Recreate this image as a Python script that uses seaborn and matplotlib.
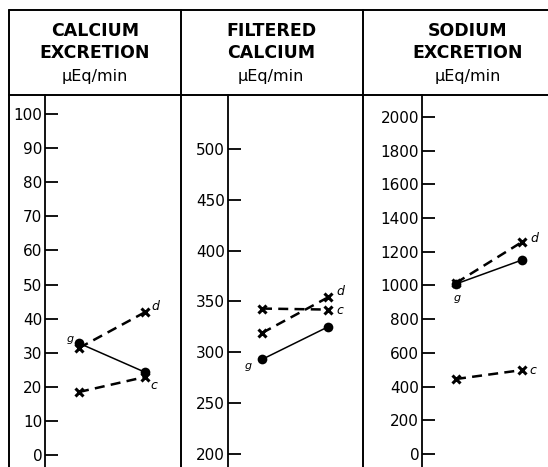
import matplotlib
matplotlib.use("Agg")
import matplotlib.pyplot as plt
import seaborn as sns
import pandas as pd
from matplotlib.lines import Line2D

sns.set_theme(style="white")
plt.rcParams['font.family'] = ['DejaVu Sans']
plt.rcParams['text.color'] = 'black'
plt.rcParams['ytick.color'] = 'black'
plt.rcParams['xtick.color'] = 'black'

# ---- data ----
periods = [0, 1]
titles = [["CALCIUM", "EXCRETION", "µEq/min"],
          ["FILTERED", "CALCIUM", "µEq/min"],
          ["SODIUM", "EXCRETION", "µEq/min"]]

calcium_g = [32.8, 24.3]
calcium_d = [31.4, 41.9]
calcium_c = [18.5, 22.9]

filtered_g = [293, 325]
filtered_d = [319, 354]
filtered_c = [343, 342]

sodium_g = [1009, 1151]
sodium_d = [1015, 1258]
sodium_c = [445, 498]

ticks1 = list(range(0, 101, 10))
ticks2 = list(range(200, 501, 50))
ticks3 = list(range(0, 2001, 200))

W, H = 548, 467
fig = plt.figure(figsize=(W / 100, H / 100), dpi=100)
fig.patch.set_facecolor("white")

def fx(px):
    return px / W

def fy(py):
    return 1 - py / H

panels = [
    dict(axis=45, right=180, ylim=(-3.5, 105.6), ticks=ticks1, hdr=95,
         series=dict(g=calcium_g, d=calcium_d, c=calcium_c),
         off=dict(g=(-9, 4), d=(10, 6), c=(9, -9))),
    dict(axis=228, right=363, ylim=(187.2, 553), ticks=ticks2, hdr=271,
         series=dict(g=filtered_g, d=filtered_d, c=filtered_c),
         off=dict(g=(-14, -7), d=(12, 6), c=(12, -1))),
    dict(axis=422, right=548, ylim=(-77, 2130), ticks=ticks3, hdr=468,
         series=dict(g=sodium_g, d=sodium_d, c=sodium_c),
         off=dict(g=(1, -14), d=(12, 3), c=(11, 0))),
]

for k, p in enumerate(panels):
    left = p["axis"]
    ax = fig.add_axes([fx(left), 0, fx(p["right"]) - fx(left), fy(95)])
    ax.set_facecolor("none")
    lo = -34 / 66
    hi = lo + (p["right"] - left) / 66
    ax.set_xlim(lo, hi)
    ax.set_ylim(*p["ylim"])
    s = p["series"]
    df_g = pd.DataFrame({"x": periods, "y": s["g"]})
    df_d = pd.DataFrame({"x": periods, "y": s["d"]})
    df_c = pd.DataFrame({"x": periods, "y": s["c"]})
    sns.lineplot(data=df_g, x="x", y="y", ax=ax, color="black", lw=1.1,
                 marker="o", markersize=7, markeredgewidth=0,
                 markerfacecolor="black", sort=False, estimator=None)
    for df in (df_d, df_c):
        sns.lineplot(data=df, x="x", y="y", ax=ax, color="black", lw=1.8,
                     linestyle=(0, (4, 2.5)), marker="x", markersize=6,
                     markeredgewidth=2.2, markeredgecolor="black",
                     sort=False, estimator=None)
    ax.annotate("g", (periods[0], s["g"][0]), xytext=p["off"]["g"],
                textcoords="offset pixels", ha="center", va="center",
                fontsize=8, style="italic", color="black")
    ax.annotate("d", (periods[1], s["d"][1]), xytext=p["off"]["d"],
                textcoords="offset pixels", ha="center", va="center",
                fontsize=9, style="italic", color="black")
    ax.annotate("c", (periods[1], s["c"][1]), xytext=p["off"]["c"],
                textcoords="offset pixels", ha="center", va="center",
                fontsize=9, style="italic", color="black")
    ax.set_yticks(p["ticks"])
    ax.set_yticklabels([str(t) for t in p["ticks"]], fontsize=11)
    ax.set_xticks([])
    ax.set_xlabel("")
    ax.set_ylabel("")
    for sp in ["top", "right", "bottom"]:
        ax.spines[sp].set_visible(False)
    ax.spines["left"].set_linewidth(1.3)
    ax.spines["left"].set_color("black")
    ax.tick_params(axis="y", direction="in", length=9, width=1.3,
                   pad=2, colors="black", left=True)
    for i, (txt, ypx) in enumerate(zip(titles[k], [31, 53, 77])):
        fig.text(fx(p["hdr"]), fy(ypx), txt, ha="center", va="center",
                 fontsize=12.5 if i < 2 else 11.5, color="black",
                 fontweight="bold" if i < 2 else "normal")

lw = 1.4
lines = [
    ([fx(9), fx(548)], [fy(10), fy(10)]),
    ([fx(9), fx(548)], [fy(95), fy(95)]),
    ([fx(9), fx(9)], [fy(10), fy(467)]),
    ([fx(181), fx(181)], [fy(10), fy(467)]),
    ([fx(363), fx(363)], [fy(10), fy(467)]),
]
for xs, ys in lines:
    fig.add_artist(Line2D(xs, ys, color="black", lw=lw,
                          transform=fig.transFigure))

fig.savefig("out.png", dpi=100, facecolor="white")
